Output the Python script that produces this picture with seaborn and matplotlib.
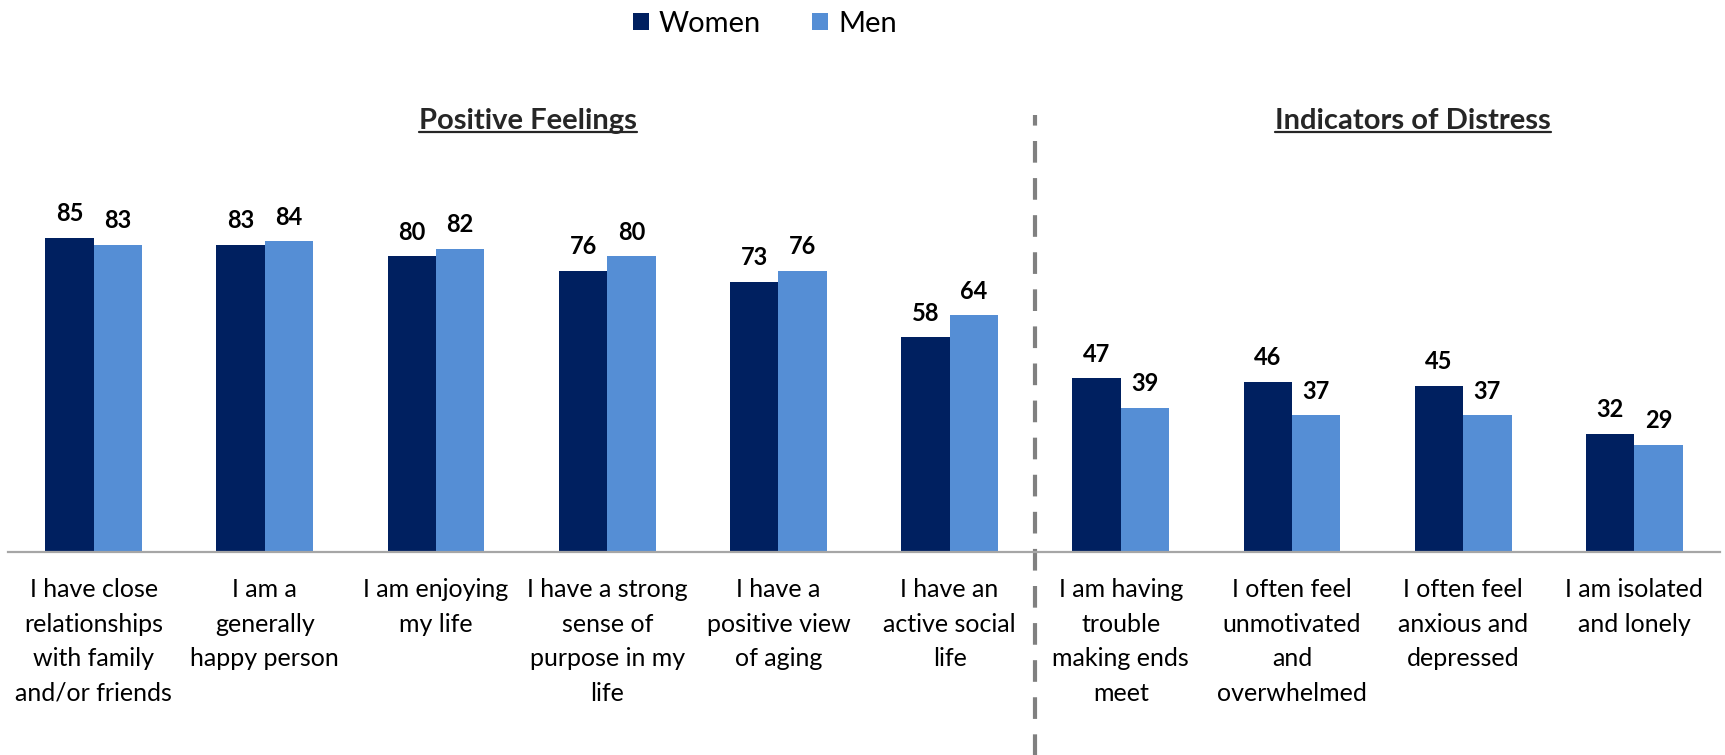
import pandas as pd
import matplotlib
matplotlib.use("Agg")
import matplotlib.pyplot as plt
from matplotlib.lines import Line2D
import seaborn as sns

# ── Data ──────────────────────────────────────────────────────────────────────
CATEGORIES = [
    "I have close\nrelationships\nwith family\nand/or friends",
    "I am a\ngenerally\nhappy person",
    "I am enjoying\nmy life",
    "I have a strong\nsense of\npurpose in my\nlife",
    "I have a\npositive view\nof aging",
    "I have an\nactive social\nlife",
    "I am having\ntrouble\nmaking ends\nmeet",
    "I often feel\nunmotivated\nand\noverwhelmed",
    "I often feel\nanxious and\ndepressed",
    "I am isolated\nand lonely",
]
WOMEN = [85, 83, 80, 76, 73, 58, 47, 46, 45, 32]
MEN = [83, 84, 82, 80, 76, 64, 39, 37, 37, 29]
SERIES = ["Women", "Men"]
SECTIONS = ["Positive Feelings", "Indicators of Distress"]

COLORS = {"Women": "#002060", "Men": "#558ED5"}

# ── Style ─────────────────────────────────────────────────────────────────────
sns.set_theme(style="white")
plt.rcParams["font.family"] = ["Lato", "DejaVu Sans"]

df = pd.DataFrame({
    "item": CATEGORIES * 2,
    "group": ["Women"] * len(WOMEN) + ["Men"] * len(MEN),
    "pct": WOMEN + MEN,
})

W, H = 1725, 755
fig = plt.figure(figsize=(W / 100, H / 100), dpi=100)
ax = fig.add_axes([8 / W, (H - 552) / H, (1720 - 8) / W, 552 / H])

sns.barplot(data=df, x="item", y="pct", hue="group", hue_order=SERIES,
            order=CATEGORIES, palette=COLORS, width=0.565, gap=0,
            saturation=1, linewidth=0, ax=ax, legend=True)

ax.set_xlim(-0.5, len(CATEGORIES) - 0.5)
ax.set_ylim(0, 552 / 3.70)
ax.set_xlabel("")
ax.set_ylabel("")
ax.set_yticks([])
for side in ["left", "right", "top"]:
    ax.spines[side].set_visible(False)
ax.spines["bottom"].set_color("#A6A6A6")
ax.spines["bottom"].set_linewidth(1.6)
ax.tick_params(axis="x", length=0, pad=19, labelsize=18, labelcolor="black")
for lab in ax.get_xticklabels():
    lab.set_linespacing(1.6)

# value labels
for cont in ax.containers:
    ax.bar_label(cont, fmt="%d", padding=9, fontsize=17, fontweight="bold",
                 color="black")

# legend across the top
handles, labels = ax.get_legend_handles_labels()
ax.legend(handles, labels, loc="center", bbox_to_anchor=(765 / W, 1 - 24 / H),
          bbox_transform=fig.transFigure, ncol=2, frameon=False, fontsize=21,
          handlelength=0.55, handleheight=0.55, handletextpad=0.35,
          columnspacing=1.75, borderaxespad=0, labelcolor="black")

# divider between the two sections
ax.axvline(5.5, ymin=-0.37, ymax=(552 - 115) / 552, color="#808080",
           lw=3.0, linestyle=(0, (5.2, 3.7)), clip_on=False)

# section headings, underlined
heads = []
for name, xc in zip(SECTIONS, [528, 1413]):
    heads.append(fig.text(xc / W, 1 - 129 / H, name, ha="center",
                          va="baseline", fontsize=21, fontweight="bold",
                          color="#262626"))
fig.canvas.draw()
renderer = fig.canvas.get_renderer()
for t in heads:
    bb = t.get_window_extent(renderer)
    y = (bb.y0 + 2) / H
    fig.add_artist(Line2D([bb.x0 / W, bb.x1 / W], [y, y], color="#262626",
                          lw=1.6, transform=fig.transFigure))

fig.savefig("out.png", dpi=100)
